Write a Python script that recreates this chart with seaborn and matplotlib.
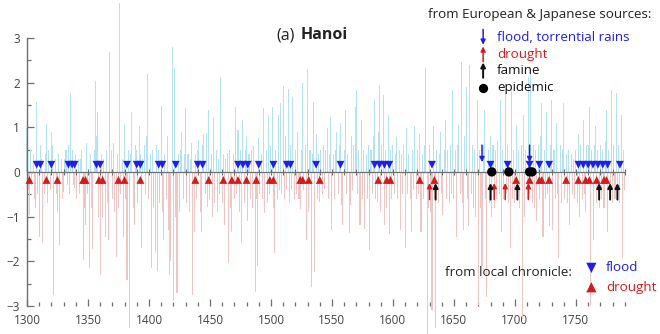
import numpy as np
import pandas as pd
import matplotlib
matplotlib.use("Agg")
import matplotlib.pyplot as plt
import seaborn as sns
from matplotlib.ticker import FixedLocator

# ---------------- data ----------------
years = list(range(1300, 1791))
index_values = [
    # 1300s
    0.98, -0.4, -0.96, 0.5, -0.3, 0.4, -0.6, -0.81, 1.57, -0.5,
    -1.45, 0.6, 0.3, -1.6, -0.5, 0.4, 1.07, -0.7, 0.5, -0.4,
    0.9, 0.6, -2.75, 0.3, -0.5, -0.9, 0.4, -1.63, 0.3, -0.6,
    -0.44, 0.3, 0.5, -0.3, 0.6, -0.5, 1.76, 0.5, -0.3, -0.37,
    0.4, -0.6, 0.3, -0.5, 0.3, 0.5, -1.97, -0.8, -1.2, 0.65,
    -0.5, -2.16, 0.4, -0.8, -1.72, 0.5, 2.04, 0.8, 1.35, -1.0,
    -2.31, 0.4, -1.0, 0.3, -1.45, 0.5, -0.7, -1.52, 2.69, 0.5,
    -0.6, 0.65, -0.9, -1.9, 0.4, -0.8, 3.79, -0.5, 0.3, -1.45,
    1.07, -0.6, -2.42, 0.5, -3.5, 0.4, 1.35, -0.8, -1.2, 0.6,
    0.5, -0.7, 1.02, 0.4, -1.7, 0.3, 0.6, -0.5, 0.8, 2.2,
    # 1400s
    -0.6, 0.4, -2.16, 0.5, -0.8, -1.8, 0.6, -2.23, 0.5, -0.7,
    1.48, -0.9, -1.52, 0.4, -0.6, 0.8, -1.3, -2.31, -2.0, 2.8,
    -2.9, 2.32, -1.0, -2.72, 0.4, -0.9, 0.5, 0.9, -0.6, 0.4,
    1.43, -0.7, 0.4, -0.9, 0.3, 0.65, -2.75, -1.34, 0.4, -0.6,
    0.5, 0.72, -0.9, -1.34, 0.6, 0.85, -0.5, 0.88, -0.78, 1.39,
    -0.6, 0.4, -1.0, 1.24, -0.7, 0.5, -0.9, 0.3, -0.5, 2.13,
    -0.7, 0.4, -1.2, 0.3, 0.42, -2.04, 0.5, -0.8, -1.34, 0.4,
    -0.6, 1.46, -0.5, 0.94, -0.9, 0.5, -1.6, 1.17, -0.7, 0.5,
    0.79, -1.1, 0.4, -0.6, 0.5, -0.8, 0.57, -2.68, -0.6, -2.1,
    0.75, -0.5, 0.4, -0.6, 1.43, -0.93, 0.5, -0.7, 1.28, -0.5,
    # 1500s
    0.6, 1.46, -0.8, -1.82, 0.5, -0.6, 1.28, -0.4, 1.55, -0.5,
    1.93, -0.6, 0.8, -0.4, 1.85, -0.7, 0.6, -0.4, 1.68, -0.6,
    0.5, -0.5, 0.9, -0.6, -0.82, 0.5, 1.99, -0.4, 0.6, -1.52,
    2.3, -0.9, 0.5, -2.57, 0.4, 1.57, -2.24, 0.85, -0.6, 0.4,
    -0.67, 0.5, -0.5, 0.6, -0.4, 0.5, 0.98, -0.6, 0.4, 1.24,
    -1.3, 0.4, -0.6, 0.5, 0.9, -0.5, 0.6, 1.09, -0.74, -1.2,
    0.5, 1.39, -0.5, 0.4, -1.37, -0.74, 0.8, -0.4, 0.6, 1.46,
    1.84, -0.5, 0.5, -1.2, 1.17, -0.6, 0.5, -1.27, 0.4, -0.6,
    0.6, -1.75, 0.5, -0.5, 0.8, 1.61, -0.6, -0.67, 0.9, 1.95,
    -0.9, 0.6, 1.72, -1.2, 0.5, -0.8, 1.28, -1.4, 0.5, -0.6,
    # 1600s
    0.6, -0.5, 0.4, 0.79, -0.6, 0.5, -1.3, 0.4, -0.5, 0.6,
    -1.7, 0.98, -0.5, 0.4, -0.6, -1.34, 0.5, -0.4, 1.02, -0.6,
    0.5, -0.5, 0.86, -1.34, 0.4, -0.6, 0.6, 2.32, -3.65, -0.8,
    0.6, -0.9, -3.1, 1.02, -0.6, -3.5, 0.5, -0.7, 0.4, 0.9,
    -0.5, -0.97, 0.5, 1.17, -0.6, 0.5, -0.7, 0.6, -0.5, 1.84,
    -0.6, 0.5, -1.45, 0.6, 1.05, -0.5, 2.47, -0.7, -1.3, 0.8,
    1.91, -0.6, -1.22, 2.4, -0.5, 0.6, -0.8, 0.5, -1.0, 1.61,
    -2.98, 0.5, -0.8, -2.1, 0.6, 1.39, -0.6, -2.8, 0.5, -0.7,
    0.8, -1.0, 0.6, -0.8, 0.5, -0.6, 0.7, -0.5, 1.61, -1.34,
    0.5, -0.6, 1.76, -0.5, 0.6, -0.7, -1.7, 1.95, -0.6, 0.5,
    # 1700s
    -0.7, 1.05, -0.6, 0.5, -0.8, 0.6, -3.3, 1.28, -1.0, 0.5,
    -0.6, 2.13, -0.5, 2.2, -0.7, 0.6, -0.8, 0.5, -1.1, 0.6,
    -0.6, 0.8, 1.55, -1.45, 0.5, -0.6, 1.35, -0.5, -1.22, 0.6,
    1.61, -1.3, 0.5, -0.6, 1.09, -0.5, -1.93, 0.6, -0.7, 0.5,
    1.55, -0.6, 0.4, -0.7, 0.5, -1.2, 0.4, -0.5, 0.3, -0.6,
    0.5, -0.7, 0.86, -1.0, 0.6, -0.6, 1.17, -0.5, -0.9, 0.6,
    0.6, 1.46, -3.0, 0.5, -1.52, 0.6, 1.02, -0.7, 0.5, -0.8,
    0.6, -0.6, 0.5, -0.8, 0.7, 1.39, -1.34, 0.5, -0.6, 1.84,
    -0.7, 0.6, -0.6, 1.76, -0.5, 0.6, -0.7, 1.28, -1.93, 0.5,
    -0.4,
]

local_flood_years = [1308, 1311, 1320, 1334, 1337, 1339, 1357, 1360, 1382, 1390,
                     1393, 1408, 1411, 1422, 1440, 1444, 1473, 1477, 1481, 1490,
                     1502, 1513, 1516, 1537, 1557, 1585, 1589, 1593, 1597, 1632,
                     1680, 1694, 1712, 1720, 1728, 1752, 1756, 1760, 1764, 1768,
                     1772, 1776, 1786]
local_drought_years = [1302, 1316, 1325, 1346, 1348, 1359, 1362, 1375, 1380, 1393,
                       1438, 1449, 1461, 1468, 1473, 1480, 1488, 1499, 1502, 1524,
                       1526, 1531, 1540, 1588, 1595, 1598, 1622, 1634, 1701, 1712,
                       1720, 1722, 1728, 1742, 1752, 1758, 1761, 1767, 1773, 1775]

eu_flood_years = [1673, 1712]
eu_drought_years = [1630, 1683, 1692, 1711]
eu_famine_years = [1635, 1680, 1702, 1769, 1778, 1784]
epidemic_years = [1681, 1695, 1712, 1714]

major_ticks = [1300, 1350, 1400, 1450, 1500, 1550, 1600, 1650, 1700, 1750]
minor_ticks = list(range(1300, 1791, 10))
ytick_values = [-3, -2, -1, 0, 1, 2, 3]

# ---------------- style ----------------
sns.set_theme(style="white")
plt.rcParams["font.family"] = ["Open Sans", "DejaVu Sans"]

BLUE_BAR = "#b6e1f2"
PINK_BAR = "#eec6c6"
BLUE = "#1f1fe6"
RED = "#d01c1c"
GRAY = "#6f6f6f"
LEG_FS = 9.6

fig = plt.figure(figsize=(6.6, 3.34), dpi=100)
ax = fig.add_axes([0, 0, 1, 1])
ax.set_facecolor("white")

df = pd.DataFrame({"year": years, "value": index_values})
df["kind"] = np.where(df["value"] >= 0, "wet", "dry")
sns.barplot(data=df, x="year", y="value", hue="kind",
            palette={"wet": BLUE_BAR, "dry": PINK_BAR},
            native_scale=True, dodge=False, width=0.85, linewidth=0,
            saturation=1, errorbar=None, legend=False, ax=ax, zorder=1)

# zero line with small decade ticks
ax.hlines(0, years[0], years[-1], color=GRAY, lw=0.9, zorder=2)
ax.plot(minor_ticks, [0] * len(minor_ticks), linestyle="none", marker="|",
        markersize=4, markeredgewidth=0.8, color=GRAY, zorder=2)

# local chronicle markers
FLOOD_Y, DROUGHT_Y = 0.16, -0.18
sns.scatterplot(x=local_flood_years, y=[FLOOD_Y] * len(local_flood_years),
                marker="v", color=BLUE, s=32, edgecolor="none", ax=ax, zorder=4)
sns.scatterplot(x=local_drought_years, y=[DROUGHT_Y] * len(local_drought_years),
                marker="^", color=RED, s=32, edgecolor="none", ax=ax, zorder=4)

# European & Japanese sources
def arrow(x0, y0, y1, color, lw=1.1, coords="data"):
    ax.annotate("", xy=(x0, y1), xytext=(x0, y0), xycoords=coords, textcoords=coords,
                arrowprops=dict(arrowstyle="-|>", color=color, lw=lw,
                                mutation_scale=7, shrinkA=0, shrinkB=0), zorder=5)

for yr in eu_flood_years:
    arrow(yr, 0.6, 0.22, BLUE)
for yr in eu_drought_years:
    arrow(yr, -0.62, -0.25, RED)
for yr in eu_famine_years:
    arrow(yr, -0.62, -0.25, "#111111", lw=1.4)
sns.scatterplot(x=epidemic_years, y=[0.0] * len(epidemic_years), color="black",
                s=45, edgecolor="none", ax=ax, zorder=5)

# axes decoration
ax.set_xlim(1277.9, 1818.9)
ax.set_ylim(-3.63, 3.85)
for s in ["top", "right"]:
    ax.spines[s].set_visible(False)
ax.spines["left"].set_position(("data", 1300))
ax.spines["left"].set_bounds(-3, 3)
ax.spines["left"].set_color(GRAY)
ax.spines["left"].set_linewidth(1.0)
ax.spines["bottom"].set_position(("data", -3))
ax.spines["bottom"].set_color("none")

ax.xaxis.set_major_locator(FixedLocator(major_ticks))
ax.xaxis.set_minor_locator(FixedLocator(minor_ticks))
ax.set_xticklabels([str(t) for t in major_ticks])
ax.yaxis.set_major_locator(FixedLocator(ytick_values))
ax.yaxis.set_minor_locator(FixedLocator([v + 0.5 for v in ytick_values[:-1]]))
ax.set_yticklabels([str(v).replace("-", "\u2212") for v in ytick_values])
ax.tick_params(axis="x", which="major", direction="in", length=5, width=0.9,
               color=GRAY, labelsize=8.5, labelcolor="#444444", pad=6, bottom=True)
ax.tick_params(axis="x", which="minor", direction="in", length=3, width=0.9,
               color=GRAY, bottom=True)
ax.tick_params(axis="y", which="major", direction="in", length=5, width=0.9,
               color=GRAY, labelsize=8.5, labelcolor="#444444", pad=5, left=True)
ax.tick_params(axis="y", which="minor", direction="in", length=3, width=0.9,
               color=GRAY, left=True)
ax.set_xlabel("")
ax.set_ylabel("")
ax.grid(False)

# title
ax.text(0.418, 0.895, "(a)", transform=ax.transAxes, fontsize=11.5,
        color="#222222", va="center", ha="left")
ax.text(0.455, 0.895, "Hanoi", transform=ax.transAxes, fontsize=11.5,
        fontweight="bold", color="#222222", va="center", ha="left")

# legend: European & Japanese sources
ax.text(0.648, 0.958, "from European & Japanese sources:", transform=ax.transAxes,
        fontsize=LEG_FS, color="#222222", va="center", ha="left")
LX, TX = 0.732, 0.753
arrow(LX, 0.912, 0.866, BLUE, coords="axes fraction")
ax.text(TX, 0.889, "flood, torrential rains", transform=ax.transAxes, fontsize=LEG_FS,
        color=BLUE, va="center", ha="left")
arrow(LX, 0.815, 0.861, RED, coords="axes fraction")
ax.text(TX, 0.838, "drought", transform=ax.transAxes, fontsize=LEG_FS,
        color=RED, va="center", ha="left")
arrow(LX, 0.767, 0.813, "#111111", lw=1.4, coords="axes fraction")
ax.text(TX, 0.790, "famine", transform=ax.transAxes, fontsize=LEG_FS,
        color="#111111", va="center", ha="left")
ax.scatter([LX], [0.737], transform=ax.transAxes, s=32, color="black", zorder=5)
ax.text(TX, 0.737, "epidemic", transform=ax.transAxes, fontsize=LEG_FS,
        color="#111111", va="center", ha="left")

# legend: local chronicle
ax.text(0.674, 0.183, "from local chronicle:", transform=ax.transAxes, fontsize=LEG_FS,
        color="#222222", va="center", ha="left")
ax.scatter([0.896], [0.198], transform=ax.transAxes, marker="v", s=55,
           color=BLUE, edgecolor="none", zorder=5)
ax.text(0.918, 0.198, "flood", transform=ax.transAxes, fontsize=LEG_FS,
        color=BLUE, va="center", ha="left")
ax.scatter([0.896], [0.140], transform=ax.transAxes, marker="^", s=55,
           color=RED, edgecolor="none", zorder=5)
ax.text(0.918, 0.140, "drought", transform=ax.transAxes, fontsize=LEG_FS,
        color=RED, va="center", ha="left")

fig.savefig("out.png", dpi=100, facecolor="white")
